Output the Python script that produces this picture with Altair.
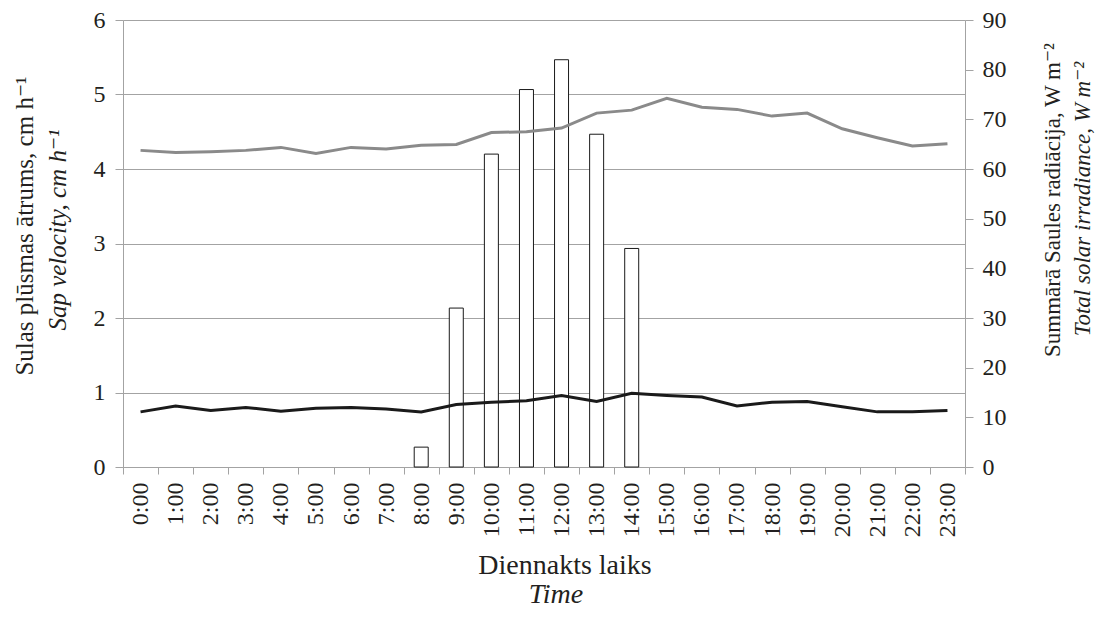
import altair as alt
import pandas as pd

hours = ["0:00", "1:00", "2:00", "3:00", "4:00", "5:00", "6:00", "7:00",
         "8:00", "9:00", "10:00", "11:00", "12:00", "13:00", "14:00", "15:00",
         "16:00", "17:00", "18:00", "19:00", "20:00", "21:00", "22:00", "23:00"]

# sap velocity, black line (left axis)
sap_black = [0.74, 0.82, 0.76, 0.80, 0.75, 0.79, 0.80, 0.78, 0.74, 0.84, 0.87, 0.89,
             0.96, 0.88, 0.99, 0.96, 0.94, 0.82, 0.87, 0.88, 0.81, 0.74, 0.74, 0.76]
# sap velocity, grey line (left axis)
sap_grey = [4.25, 4.22, 4.23, 4.25, 4.29, 4.21, 4.29, 4.27, 4.32, 4.33, 4.49, 4.50,
            4.55, 4.75, 4.79, 4.95, 4.83, 4.80, 4.71, 4.75, 4.54, 4.42, 4.31, 4.34]
# total solar irradiance, bars (right axis)
solar = [0, 0, 0, 0, 0, 0, 0, 0, 4, 32, 63, 76, 82, 67, 44, 0, 0, 0, 0, 0, 0, 0, 0, 0]

left_ticks = [0, 1, 2, 3, 4, 5, 6]
right_ticks = [0, 10, 20, 30, 40, 50, 60, 70, 80, 90]

FONT = "Liberation Serif, DejaVu Serif, serif"
GRID = "#a3a3a3"
TXT = "#231f20"

df = pd.DataFrame({"hour": hours, "black": sap_black, "grey": sap_grey, "solar": solar})

x_enc = alt.X("hour:N", sort=hours,
              scale=alt.Scale(paddingInner=0, paddingOuter=0),
              axis=alt.Axis(title=None, labelAngle=270, tickBand="extent",
                            domainColor=GRID, tickColor=GRID, tickSize=7,
                            labelPadding=8, labelFontSize=24, labelFont=FONT,
                            labelColor=TXT, grid=False))

base = alt.Chart(df)

bars = base.transform_filter("datum.solar > 0").mark_bar(
    size=14, fill="white", stroke="#1a1a1a", strokeWidth=1
).encode(
    x=x_enc,
    y=alt.Y("solar:Q", scale=alt.Scale(domain=[0, 90], nice=False),
            axis=alt.Axis(orient="right", title=None, values=right_ticks,
                          grid=False, domainColor=GRID, tickColor=GRID,
                          tickSize=8, labelPadding=9, labelFontSize=24,
                          labelFont=FONT, labelColor=TXT)),
)

lines = base.transform_fold(["black", "grey"], as_=["series", "value"]).mark_line(
    strokeWidth=3
).encode(
    x=x_enc,
    y=alt.Y("value:Q", scale=alt.Scale(domain=[0, 6], nice=False),
            axis=alt.Axis(orient="left", title=None, values=left_ticks,
                          grid=True, gridColor=GRID, gridWidth=1,
                          domainColor=GRID, tickColor=GRID, tickSize=8,
                          labelPadding=10, labelFontSize=24, labelFont=FONT,
                          labelColor=TXT)),
    color=alt.Color("series:N", scale=alt.Scale(domain=["black", "grey"],
                                                range=["#1a1a1a", "#8a8a8a"]),
                    legend=None),
)


def label(text, x, y, size, angle=0, italic=False, align="center", baseline="alphabetic"):
    kw = dict(fontSize=size, font=FONT, color=TXT, align=align, baseline=baseline)
    if angle:
        kw["angle"] = angle
    if italic:
        kw["fontStyle"] = "italic"
    return alt.Chart(pd.DataFrame({"t": [text]})).mark_text(**kw).encode(
        text="t:N", x=alt.value(x), y=alt.value(y))


titles = [
    label("Sulas plūsmas ātrums, cm h⁻¹", -90, 206, 25, angle=270),
    label("Sap velocity, cm h⁻¹", -57, 210, 25, angle=270, italic=True),
    label("Summārā Saules radiācija, W m⁻²", 937, 180, 23, angle=270),
    label("Total solar irradiance, W m⁻²", 967, 179, 23, angle=270, italic=True),
    label("Diennakts laiks", 442, 554, 28),
    label("Time", 433, 583, 28, italic=True),
]

chart = alt.layer(bars, lines, *titles).resolve_scale(y="independent").properties(
    width=842, height=447,
    autosize=alt.AutoSizeParams(type="none"),
    padding={"left": 115, "top": 12, "right": 130, "bottom": 142},
).configure_view(stroke=None)

chart.save("out.html", embed_options={"renderer": "svg", "actions": False})
